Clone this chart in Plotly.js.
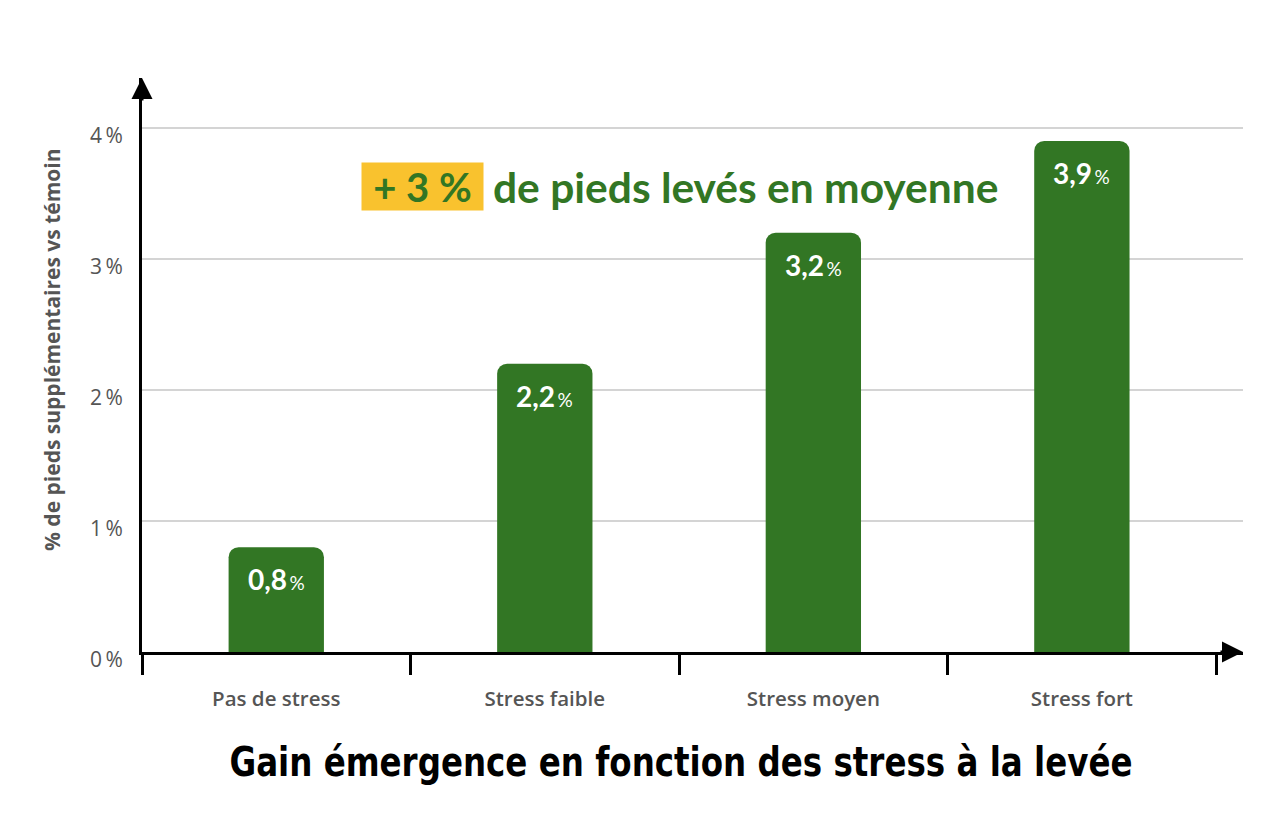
<!DOCTYPE html>
<html>
<head>
<meta charset="utf-8">
<script src="https://cdn.plot.ly/plotly-3.0.1.min.js"></script>
<style>html,body{margin:0;padding:0;background:#fff;}#chart{width:1280px;height:839px;}</style>
</head>
<body>
<div id="chart"></div>
<script>
const categories = ["Pas de stress", "Stress faible", "Stress moyen", "Stress fort"];
const values = [0.8, 2.2, 3.2, 3.9];
const yTickVals = [0, 1, 2, 3, 4];
const yTickText = ["0\u2009%", "1\u2009%", "2\u2009%", "3\u2009%", "4\u2009%"];
const chartTitle = "Gain émergence en fonction des stress à la levée";
const yTitle = "% de pieds supplémentaires vs témoin";
const badgeText = "+ 3 %";
const headline = "de pieds levés en moyenne";

const green = "#327624";
const FONT = "Lato, 'Open Sans', sans-serif";
const FONT2 = "'Open Sans', Lato, sans-serif";

const barLabels = values.map((v, i) => ({
  x: categories[i], y: v, xref: "x", yref: "y",
  text: "<b>" + v.toFixed(1).replace(".", ",") + "</b><span style='font-size:19px'>\u2009%</span>",
  showarrow: false, yanchor: "middle", yshift: -32,
  font: {family: FONT, size: 28, color: "#ffffff"}
}));

const trace = {
  type: "bar", x: categories, y: values,
  marker: {color: green, cornerradius: 10},
  width: 0.355, hoverinfo: "none"
};

const layout = {
  width: 1280, height: 839,
  margin: {l: 142, r: 37, t: 78, b: 187},
  paper_bgcolor: "#fff", plot_bgcolor: "#fff",
  showlegend: false,
  font: {family: FONT},
  title: {
    text: "<b>" + chartTitle + "</b>",
    font: {family: "'DejaVu Sans Condensed', 'DejaVu Sans', sans-serif", size: 40, color: "#000"},
    x: 681 / 1280, xanchor: "center", xref: "container",
    y: 1 - 762 / 839, yanchor: "middle", yref: "container"
  },
  xaxis: {
    type: "category", range: [-0.5, 3.6],
    showline: true, linecolor: "#000", linewidth: 3,
    ticks: "outside", tickson: "boundaries", ticklen: 20, tickwidth: 3, tickcolor: "#000",
    ticklabelstandoff: 26,
    showgrid: false, zeroline: false,
    tickfont: {family: FONT2, size: 20.5, color: "#555", weight: 600},
    fixedrange: true
  },
  yaxis: {
    range: [0, 4.38],
    tickvals: yTickVals, ticktext: yTickText,
    showline: true, linecolor: "#000", linewidth: 3,
    showgrid: true, gridcolor: "#d4d4d4", gridwidth: 2,
    zeroline: false, ticks: "", ticklabelstandoff: 12, ticklabelshift: 8,
    tickfont: {family: FONT2, size: 21, color: "#555", weight: 400},
    fixedrange: true
  },
  annotations: barLabels.concat([
    {xref: "paper", yref: "paper", x: (52 - 142) / 1101, y: (652 - 350) / 574,
     xanchor: "center", yanchor: "middle", textangle: -90, showarrow: false,
     text: "<b>" + yTitle + "</b>", font: {family: FONT2, size: 21, color: "#555"}},
    {xref: "paper", yref: "paper", x: 0, y: 1, ax: 0, ay: 24, text: "",
     showarrow: true, arrowhead: 2, arrowsize: 1.4, arrowwidth: 3, arrowcolor: "#000"},
    {xref: "paper", yref: "paper", x: 1, y: 0, ax: -24, ay: 0, text: "",
     showarrow: true, arrowhead: 2, arrowsize: 1.4, arrowwidth: 3, arrowcolor: "#000"},
    {xref: "paper", yref: "paper", x: (422.5 - 142) / 1101, y: (652 - 186) / 574,
     xanchor: "center", yanchor: "middle", showarrow: false,
     text: "<b>" + badgeText + "</b>", bgcolor: "#f9c22e", width: 119, height: 45,
     font: {family: FONT, size: 40, color: green}},
    {xref: "paper", yref: "paper", x: (491 - 142) / 1101, y: (652 - 186) / 574,
     xanchor: "left", yanchor: "middle", showarrow: false,
     text: "<b>" + headline + "</b>",
     font: {family: FONT, size: 42.5, color: green}}
  ])
};

Plotly.newPlot("chart", [trace], layout, {displayModeBar: false, staticPlot: true}).then(() => {
  const t = document.querySelector("#chart .gtitle");
  if (t) {
    t.setAttribute("textLength", "903");
    t.setAttribute("lengthAdjust", "spacingAndGlyphs");
  }
});
</script>
</body>
</html>
